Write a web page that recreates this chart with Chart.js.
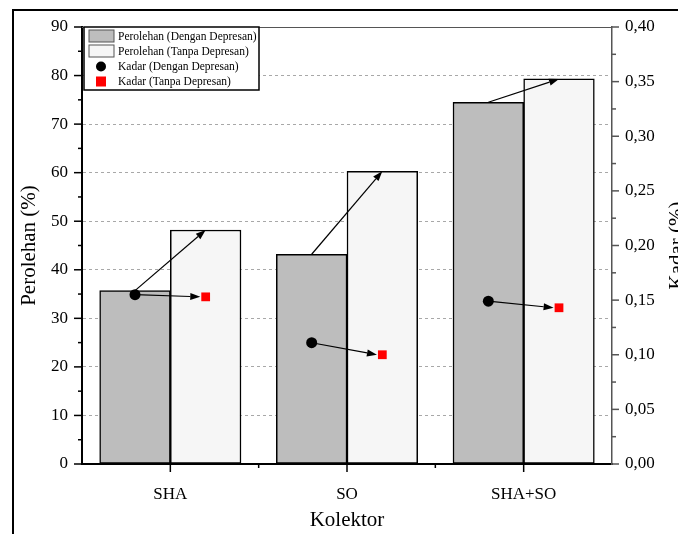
<!DOCTYPE html>
<html>
<head>
<meta charset="utf-8">
<script src="https://cdn.jsdelivr.net/npm/chart.js@4/dist/chart.umd.min.js"></script>
<style>
  html, body { margin: 0; padding: 0; background: #ffffff; }
  #wrap { width: 678px; height: 534px; }
</style>
</head>
<body>
<div id="wrap"><canvas id="c" width="678" height="534"></canvas></div>
<script>
// Collector categories and measured values
const categories = ['SHA', 'SO', 'SHA+SO'];
const perolehanDengan = [35.7, 43.2, 74.5];   // recovery with depressant (%)
const perolehanTanpa = [48.2, 60.3, 79.3];    // recovery without depressant (%)
const kadarDengan = [0.155, 0.111, 0.149];    // grade with depressant (%)
const kadarTanpa = [0.153, 0.100, 0.143];     // grade without depressant (%)

const SERIF = "'Liberation Serif', 'Times New Roman', serif";

// each category holds a pair of bars; the left member sits at -0.2, the right at +0.2
const atSlot = (vals, shift) => vals.map((v, i) => ({ x: i + shift, y: v }));

function arrow(ctx, x1, y1, x2, y2) {
  const head = 10, half = 3.5;
  const ang = Math.atan2(y2 - y1, x2 - x1);
  const bx = x2 - head * Math.cos(ang), by = y2 - head * Math.sin(ang);
  ctx.save();
  ctx.strokeStyle = '#000';
  ctx.fillStyle = '#000';
  ctx.lineWidth = 1.2;
  ctx.beginPath();
  ctx.moveTo(x1, y1);
  ctx.lineTo(bx, by);
  ctx.stroke();
  ctx.beginPath();
  ctx.moveTo(x2, y2);
  ctx.lineTo(bx + half * Math.sin(ang), by - half * Math.cos(ang));
  ctx.lineTo(bx - half * Math.sin(ang), by + half * Math.cos(ang));
  ctx.closePath();
  ctx.fill();
  ctx.restore();
}

// frame, minor/major ticks, arrows, legend and right-hand title
const decorations = {
  id: 'decorations',
  beforeDraw(chart) {
    const ctx = chart.ctx;
    ctx.save();
    ctx.strokeStyle = '#000';
    ctx.lineWidth = 2;
    ctx.beginPath();
    ctx.moveTo(13, 534);
    ctx.lineTo(13, 10);
    ctx.lineTo(678, 10);
    ctx.stroke();
    ctx.restore();
  },
  afterDatasetsDraw(chart) {
    const ctx = chart.ctx;
    const barsA = chart.getDatasetMeta(0).data;
    const barsB = chart.getDatasetMeta(1).data;
    const ptsA = chart.getDatasetMeta(2).data;
    const ptsB = chart.getDatasetMeta(3).data;
    for (let i = 0; i < barsA.length; i++) {
      arrow(ctx, barsA[i].x, barsA[i].y, barsB[i].x, barsB[i].y);
    }
    for (let i = 0; i < ptsA.length; i++) {
      const half = Math.SQRT1_2 * chart.data.datasets[3].pointRadius;
      arrow(ctx, ptsA[i].x, ptsA[i].y, ptsB[i].x - half - 1, ptsB[i].y);
    }
  },
  afterDraw(chart) {
    const ctx = chart.ctx;
    const area = chart.chartArea;
    const y = chart.scales.y, y1 = chart.scales.y1, x = chart.scales.x;

    ctx.save();
    // top edge of the plot
    ctx.strokeStyle = '#555';
    ctx.lineWidth = 1;
    ctx.beginPath();
    ctx.moveTo(area.left, area.top + 0.5);
    ctx.lineTo(area.right, area.top + 0.5);
    ctx.stroke();

    // left axis ticks
    ctx.strokeStyle = '#000';
    ctx.lineWidth = 1.5;
    for (let v = 0; v <= 90; v += 5) {
      const p = y.getPixelForValue(v);
      const len = v % 10 === 0 ? 8 : 4;
      ctx.beginPath();
      ctx.moveTo(area.left - len, p);
      ctx.lineTo(area.left, p);
      ctx.stroke();
    }
    // bottom axis ticks
    for (let i = 0; i <= categories.length; i++) {
      const edge = area.left + (area.right - area.left) * i / categories.length;
      if (i > 0 && i < categories.length) {
        ctx.beginPath();
        ctx.moveTo(edge, area.bottom);
        ctx.lineTo(edge, area.bottom + 4);
        ctx.stroke();
      }
      if (i < categories.length) {
        const c = x.getPixelForValue(i);
        ctx.beginPath();
        ctx.moveTo(c, area.bottom);
        ctx.lineTo(c, area.bottom + 8);
        ctx.stroke();
      }
    }
    // right axis ticks
    ctx.strokeStyle = '#555';
    for (let k = 0; k <= 16; k++) {
      const p = y1.getPixelForValue(k * 0.025);
      const len = k % 2 === 0 ? 7 : 4;
      ctx.beginPath();
      ctx.moveTo(area.right, p);
      ctx.lineTo(area.right + len, p);
      ctx.stroke();
    }

    // right-hand axis title
    ctx.fillStyle = '#000';
    ctx.font = '21px ' + SERIF;
    ctx.textAlign = 'center';
    ctx.textBaseline = 'middle';
    ctx.translate(677, (area.top + area.bottom) / 2);
    ctx.rotate(-Math.PI / 2);
    ctx.fillText('Kadar (%)', 0, 0);
    ctx.restore();

    // legend box
    ctx.save();
    const lx = area.left + 2, ly = area.top, lw = 175, lh = 63;
    ctx.fillStyle = '#fff';
    ctx.fillRect(lx, ly, lw, lh);
    ctx.strokeStyle = '#000';
    ctx.lineWidth = 1.5;
    ctx.strokeRect(lx, ly, lw, lh);
    const rows = [ly + 9, ly + 24, ly + 39.5, ly + 54.5];
    const sx = lx + 17;
    ctx.font = '11.5px ' + SERIF;
    ctx.textAlign = 'left';
    ctx.textBaseline = 'middle';
    chart.data.datasets.forEach((ds, i) => {
      const ry = rows[i];
      if (ds.type === 'bar') {
        ctx.fillStyle = ds.backgroundColor;
        ctx.fillRect(sx - 12, ry - 6, 25, 12);
        ctx.strokeStyle = '#555';
        ctx.lineWidth = 1;
        ctx.strokeRect(sx - 12, ry - 6, 25, 12);
      } else if (ds.pointStyle === 'circle') {
        ctx.fillStyle = ds.backgroundColor;
        ctx.beginPath();
        ctx.arc(sx, ry, 5, 0, Math.PI * 2);
        ctx.fill();
      } else {
        ctx.fillStyle = ds.backgroundColor;
        ctx.fillRect(sx - 5, ry - 5, 10, 10);
      }
      ctx.fillStyle = '#000';
      ctx.fillText(ds.label, lx + 34, ry + 0.5);
    });
    ctx.restore();
  }
};

new Chart(document.getElementById('c'), {
  type: 'bar',
  data: {
    labels: categories,
    datasets: [
      {
        type: 'bar', label: 'Perolehan (Dengan Depresan)', data: atSlot(perolehanDengan, -0.2),
        backgroundColor: '#bdbdbd', borderColor: '#000', borderWidth: 1.5, borderSkipped: false,
        yAxisID: 'y', xAxisID: 'xp', order: 1, grouped: false,
        categoryPercentage: 1.0, barPercentage: 1.0
      },
      {
        type: 'bar', label: 'Perolehan (Tanpa Depresan)', data: atSlot(perolehanTanpa, 0.2),
        backgroundColor: '#f6f6f6', borderColor: '#000', borderWidth: 1.5, borderSkipped: false,
        yAxisID: 'y', xAxisID: 'xp', order: 1, grouped: false,
        categoryPercentage: 1.0, barPercentage: 1.0
      },
      {
        type: 'scatter', label: 'Kadar (Dengan Depresan)', data: atSlot(kadarDengan, -0.2),
        backgroundColor: '#000', borderColor: '#000', borderWidth: 0,
        pointStyle: 'circle', pointRadius: 5.5, yAxisID: 'y1', xAxisID: 'xp', order: 0
      },
      {
        type: 'scatter', label: 'Kadar (Tanpa Depresan)', data: atSlot(kadarTanpa, 0.2),
        backgroundColor: '#ff0000', borderColor: '#ff0000', borderWidth: 0,
        pointStyle: 'rect', pointRadius: 6.2, yAxisID: 'y1', xAxisID: 'xp', order: 0
      }
    ]
  },
  options: {
    responsive: false,
    animation: false,
    devicePixelRatio: 1,
    layout: { padding: { top: 27, left: 0, right: 0, bottom: 0 } },
    plugins: { legend: { display: false }, tooltip: { enabled: false } },
    scales: {
      x: {
        type: 'category',
        position: 'bottom',
        offset: true,
        grid: { display: false },
        border: { display: true, color: '#000', width: 2 },
        ticks: { color: '#000', font: { family: SERIF, size: 17 }, padding: 12 },
        title: { display: true, text: 'Kolektor', color: '#000', font: { family: SERIF, size: 21 }, padding: { top: 0, bottom: 1 } },
        afterFit: s => { s.height = 70; }
      },
      xp: {
        type: 'linear', axis: 'x', position: 'bottom', display: false,
        min: -0.5, max: 2.5, offset: false, ticks: { stepSize: 0.5 }
      },
      y: {
        position: 'left',
        min: 0, max: 90,
        ticks: { stepSize: 10, color: '#000', font: { family: SERIF, size: 17 }, padding: 14 },
        grid: {
          drawTicks: false,
          lineWidth: 1,
          color: c => (c.tick && c.tick.value > 0 && c.tick.value < 90) ? '#a8a8a8' : 'rgba(0,0,0,0)'
        },
        border: { display: true, color: '#000', width: 2, dash: [3, 3] },
        title: { display: true, text: 'Perolehan (%)', color: '#000', font: { family: SERIF, size: 21 }, padding: { top: 17, bottom: 0 } },
        afterFit: s => { s.width = 82; }
      },
      y1: {
        position: 'right',
        min: 0, max: 0.4,
        ticks: {
          stepSize: 0.05, color: '#000', font: { family: SERIF, size: 17 }, padding: 13,
          callback: v => Number(v).toFixed(2).replace('.', ',')
        },
        grid: { display: false, drawOnChartArea: false, drawTicks: false },
        border: { display: true, color: '#555', width: 1.5 },
        afterFit: s => { s.width = 66; }
      }
    }
  },
  plugins: [decorations]
});
</script>
</body>
</html>
